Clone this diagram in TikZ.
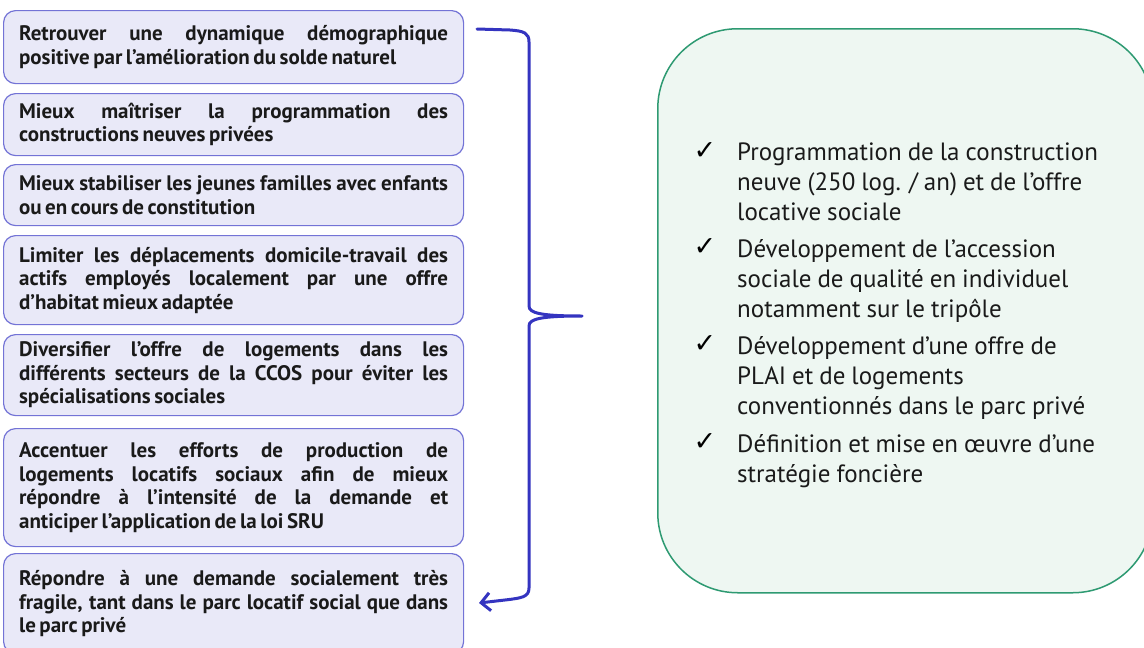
\documentclass[tikz,border=0pt]{standalone}
\usepackage{fontspec}
\setmainfont{PT Sans}
\newfontfamily\symfont{DejaVu Sans}
\usetikzlibrary{arrows.meta,bending}
\definecolor{lfill}{HTML}{E9E9F8}
\definecolor{ldraw}{HTML}{7373D6}
\definecolor{rfill}{HTML}{EEF7F2}
\definecolor{rdraw}{HTML}{2E9A72}
\definecolor{brk}{HTML}{3434C0}
\definecolor{txt}{HTML}{1A1A1A}
\newcommand{\jl}[1]{\leavevmode\hbox to 429pt{\spaceskip=0.17em plus 1fil\relax\xspaceskip=0.17em plus 1fil\relax #1}}
\tikzset{
  lbox/.style={draw=ldraw, fill=lfill, line width=1.2pt, rounded corners=12pt,
    text width=429pt, inner xsep=15.5pt, inner ysep=0pt, align=left, anchor=north west,
    font=\fontsize{21}{23.5}\selectfont\bfseries, text=txt,
    execute at begin node={\spaceskip=0.17em\relax\xspaceskip=0.17em\relax}},
  rbox/.style={draw=rdraw, fill=rfill, line width=1.5pt, rounded corners=80pt,
    minimum width=495pt, minimum height=564pt, anchor=north west, inner sep=0pt},
  chk/.style={font=\symfont\fontsize{27}{27}\selectfont, text=black, inner sep=0pt},
  ritem/.style={anchor=north west, inner sep=0pt, align=left,
    font=\fontsize{25}{30}\selectfont, text=txt,
    execute at begin node={\spaceskip=0.24em\relax}},
  brace/.style={draw=brk, line width=3pt, line cap=round, line join=round}
}
\begin{document}
\begin{tikzpicture}[x=1pt,y=-1pt]
\useasboundingbox[fill=white] (0,0) rectangle (1144,648);
% left boxes
\node[lbox, minimum height=73pt] (b1) at (3,10)
  {\jl{Retrouver une dynamique démographique}\\positive par l’amélioration du solde naturel};
\node[lbox, minimum height=62pt] (b2) at (3,93)
  {\jl{Mieux maîtriser la programmation des}\\constructions neuves privées};
\node[lbox, minimum height=61pt] (b3) at (3,164)
  {\jl{Mieux stabiliser les jeunes familles avec enfants}\\ou en cours de constitution};
\node[lbox, minimum height=89pt] (b4) at (3,235)
  {\jl{Limiter les déplacements domicile-travail des}\\\jl{actifs employés localement par une offre}\\d’habitat mieux adaptée};
\node[lbox, minimum height=81pt] (b5) at (3,334)
  {\jl{Diversifier l’offre de logements dans les}\\\jl{différents secteurs de la CCOS pour éviter les}\\spécialisations sociales};
\node[lbox, minimum height=118pt] (b6) at (3,428)
  {\jl{Accentuer les efforts de production de}\\\jl{logements locatifs sociaux afin de mieux}\\\jl{répondre à l’intensité de la demande et}\\anticiper l’application de la loi SRU};
\node[lbox, minimum height=100pt] (b7) at (3,553)
  {\jl{Répondre à une demande socialement très}\\\jl{fragile, tant dans le parc locatif social que dans}\\le parc privé};
% right box
\node[rbox] (rb) at (657,28) {};
\node[chk] (c1) at (705,151) {✓};
\node[chk] (c2) at (705,247) {✓};
\node[chk] (c3) at (705,344) {✓};
\node[chk] (c4) at (705,442) {✓};
\node[ritem] (t1) at (737,143) {Programmation de la construction\\neuve (250 log. / an) et de l’offre\\locative sociale};
\node[ritem] (t2) at (737,239) {Développement de l’accession\\sociale de qualité en individuel\\notamment sur le tripôle};
\node[ritem] (t3) at (737,336) {Développement d’une offre de\\PLAI et de logements\\conventionnés dans le parc privé};
\node[ritem] (t4) at (737,434) {Définition et mise en œuvre d’une\\stratégie foncière};
% bracket
\coordinate (k0) at (477,29);
\coordinate (tip) at (582,316);
\coordinate (k9) at (479,603);
\draw[brace, -{Straight Barb[bend, length=9pt, width=18pt]}]
  (k0) -- (510,30) .. controls (524,31) and (529,33) .. (529,42)
  -- (529,306) .. controls (529,313) and (540,316) .. (tip)
  .. controls (540,316) and (529,319) .. (529,326)
  -- (529,588) .. controls (529,597) and (522,598) .. (505,600) -- (k9);
\end{tikzpicture}
\end{document}
